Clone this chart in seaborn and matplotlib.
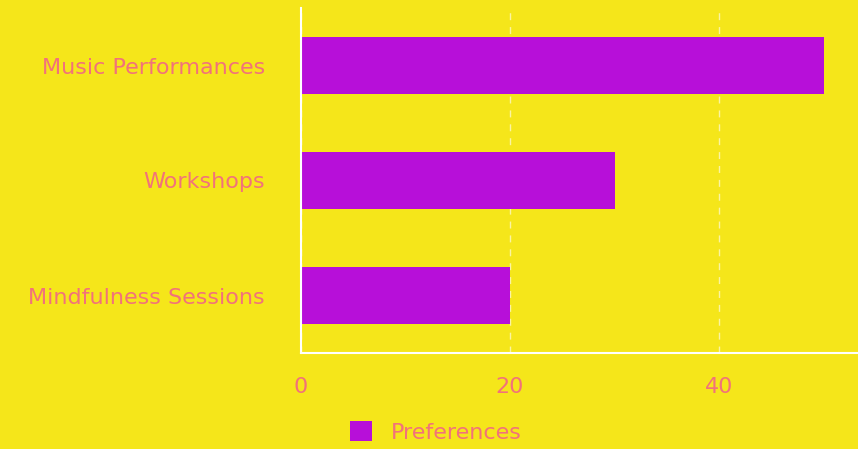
import matplotlib
matplotlib.use("Agg")
import matplotlib.pyplot as plt
import seaborn as sns
import pandas as pd

categories = ["Music Performances", "Workshops", "Mindfulness Sessions"]
values = [50, 30, 20]
series_name = "Preferences"
x_ticks = [0, 20, 40]

BG = "#F5E61A"
BAR = "#B70FD9"
TXT = "#F2727A"

sns.set_theme(style="white")
plt.rcParams["font.family"] = ["DejaVu Sans"]

df = pd.DataFrame({"category": categories, "value": values, "series": [series_name] * len(values)})

fig = plt.figure(figsize=(8.58, 4.49), dpi=100, facecolor=BG)
ax = fig.add_axes([301 / 858, (449 - 353) / 449, 1 - 301 / 858, (353 - 8) / 449])
ax.set_facecolor(BG)

sns.barplot(data=df, x="value", y="category", hue="series", palette=[BAR],
            orient="h", width=0.5, ax=ax, saturation=1, legend=True, linewidth=0)

ax.set_xlim(0, 53.3)
ax.set_ylim(2.5, -0.5)
ax.set_xticks(x_ticks)
ax.set_xlabel("")
ax.set_ylabel("")
ax.grid(axis="x", color="white", linestyle=(0, (5, 5)), linewidth=1, alpha=0.6)
ax.set_axisbelow(True)
for s in ["top", "right"]:
    ax.spines[s].set_visible(False)
for s in ["left", "bottom"]:
    ax.spines[s].set_color("white")
    ax.spines[s].set_linewidth(1.5)
ax.tick_params(axis="x", colors=TXT, labelsize=16, length=0, pad=17)
ax.tick_params(axis="y", colors=TXT, labelsize=16, length=0, pad=26)

leg = ax.legend(loc="center", bbox_to_anchor=(436 / 858, 1 - 432 / 449), bbox_transform=fig.transFigure,
                frameon=False, fontsize=16, handlelength=1.0, handleheight=1.0, handletextpad=0.85)
for t in leg.get_texts():
    t.set_color(TXT)

fig.savefig("out.png", dpi=100, facecolor=BG)
